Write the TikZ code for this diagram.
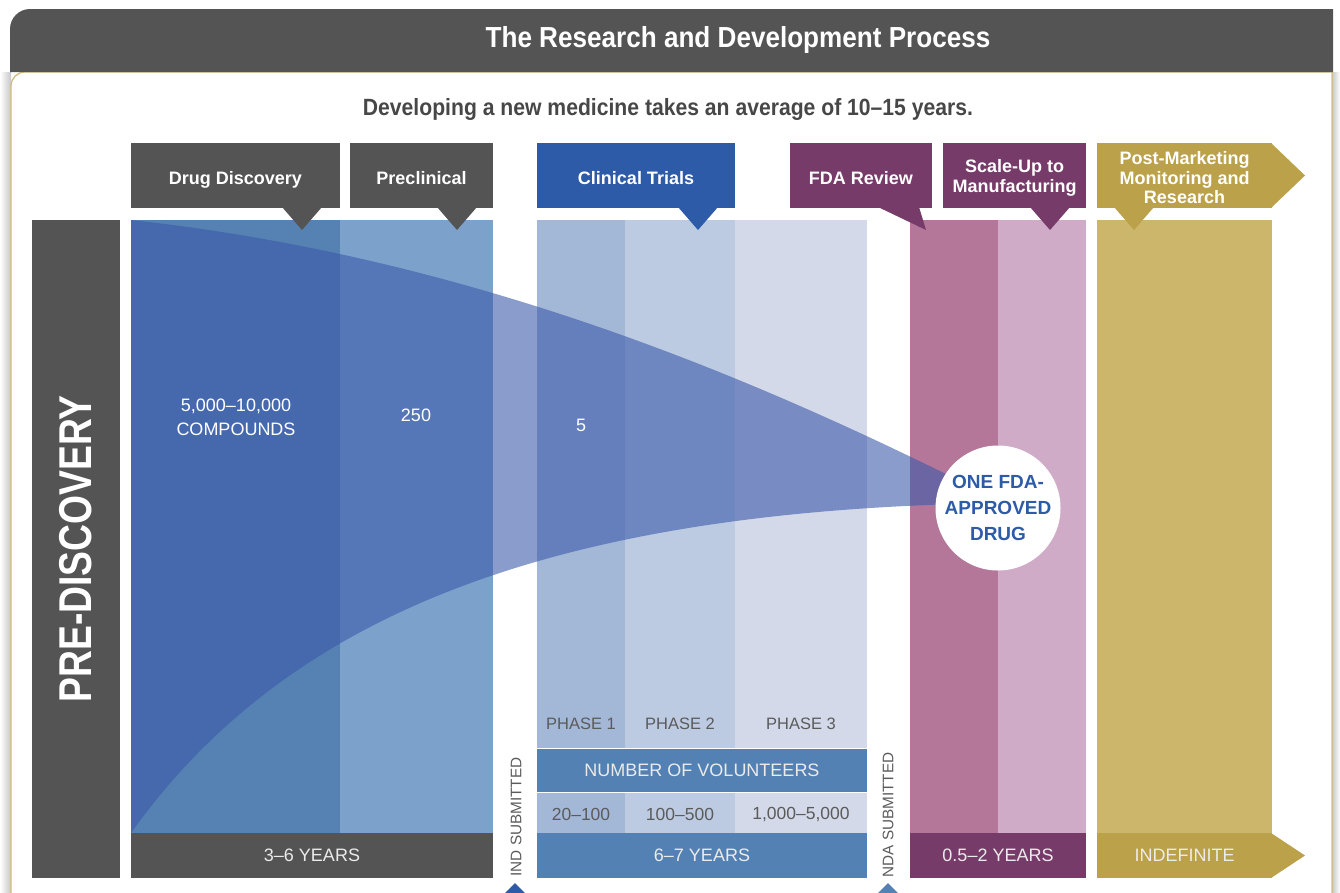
\documentclass[tikz,border=0pt]{standalone}
\usepackage{fontspec}
\setmainfont{Liberation Sans}
\newfontfamily\condfont[FakeStretch=0.9]{Liberation Sans}

\definecolor{bargray}{HTML}{545454}
\definecolor{ctblue}{HTML}{2D5BA8}
\definecolor{fdapurple}{HTML}{763B68}
\definecolor{pmgold}{HTML}{BBA14A}
\definecolor{volblue}{HTML}{5381B3}
\definecolor{ddcol}{HTML}{5681B3}
\definecolor{pccol}{HTML}{7CA2CC}
\definecolor{phaseA}{HTML}{A3B8D7}
\definecolor{phaseB}{HTML}{BCCBE2}
\definecolor{phaseC}{HTML}{D3D9E9}
\definecolor{fdacol}{HTML}{B47699}
\definecolor{scalecol}{HTML}{CFABC8}
\definecolor{pmcol}{HTML}{CCB66C}
\definecolor{funnel}{HTML}{3C5AAA}
\definecolor{panelgold}{HTML}{D2BE78}
\definecolor{labelgray}{HTML}{5B5B5B}

\begin{document}
\begin{tikzpicture}[x=1pt, y=-1pt,
  tabtext/.style={text=white, align=center, inner sep=0pt,
    font=\fontsize{18}{19.5}\selectfont\bfseries},
  yearband/.style={fill=#1, text=white!92!black, inner sep=0pt, minimum height=45pt,
    font=\fontsize{18}{20}\selectfont},
  counttext/.style={text=white, align=center, font=\fontsize{18}{24}\selectfont},
  phaselabel/.style={text=labelgray, font=\fontsize{16.5}{18}\selectfont},
  volcount/.style={text=labelgray, font=\fontsize{17.5}{18}\selectfont},
  subtext/.style={text=labelgray, rotate=90, font=\fontsize{15.3}{16}\selectfont}]

\useasboundingbox (0,0) rectangle (1340,892);

% Panel and title bar
\shade[left color=white, right color=black!22] (0,72) rectangle (11,892);
\shade[left color=black!22, right color=white] (1332,72) rectangle (1340,892);
\draw[panelgold, line width=1.3pt] (11,895) -- (11,86) arc[start angle=180, end angle=270, radius=14] -- (1332,72) -- (1332,895);
\fill[bargray] (10,72) -- (10,29) arc[start angle=180, end angle=270, radius=20] -- (1333,9) -- (1333,72) -- cycle;

\node[text=white, font=\condfont\fontsize{29}{30}\selectfont\bfseries] (title) at (738,40) {The Research and Development Process};
\node[text=black!72, font=\condfont\fontsize{23.5}{25}\selectfont\bfseries] (sub) at (668,109) {Developing a new medicine takes an average of 10–15 years.};

% Pre-discovery
\node[fill=bargray, rotate=90, minimum width=658pt, minimum height=88pt, inner sep=0pt, text=white,
  font=\fontsize{46}{46}\selectfont\bfseries] (pre) at (76,549) {\scalebox{0.81}[1]{PRE-DISCOVERY}};

% Columns
\fill[ddcol] (131,220) rectangle (340,833);
\fill[pccol] (340,220) rectangle (493,833);
\fill[phaseA] (537,220) rectangle (625,833);
\fill[phaseB] (625,220) rectangle (735,833);
\fill[phaseC] (735,220) rectangle (867,833);
\fill[fdacol] (910,220) rectangle (998,833);
\fill[scalecol] (998,220) rectangle (1086,833);
\fill[pmcol] (1097,220) rectangle (1272,833);

% Funnel
\fill[funnel, opacity=0.6] (131,220) .. controls (500,260) and (800,400) .. (998,500)
  -- (998,503) .. controls (560,510) and (290,610) .. (131,833) -- cycle;

% Clinical table
\node[yearband=volblue, minimum width=330pt, minimum height=44pt] (vol) at (702,770) {NUMBER OF VOLUNTEERS};
\draw[white, line width=0.8pt] (537,748) -- (867,748) (537,792) -- (867,792);

% Tabs
\fill[bargray] (131,143) rectangle (340,208);
\fill[bargray] (350,143) rectangle (493,208);
\fill[ctblue] (537,143) rectangle (735,208);
\fill[fdapurple] (790,143) rectangle (932,208);
\fill[fdapurple] (943,143) rectangle (1086,208);
\fill[pmgold] (1097,143) rectangle (1272,208);

\fill[bargray] (282,207) -- (322,207) -- (302,230) -- cycle;
\fill[bargray] (437,207) -- (477,207) -- (457,230) -- cycle;
\fill[ctblue] (678,207) -- (718,207) -- (698,230) -- cycle;
\fill[fdapurple] (878,207) -- (919,207) -- (926,230) -- cycle;
\fill[fdapurple] (1030,207) -- (1070,207) -- (1050,230) -- cycle;
\fill[pmgold] (1114,207) -- (1154,207) -- (1134,230) -- cycle;
\fill[pmgold] (1271,143) -- (1305,175.5) -- (1271,208) -- cycle;

\node[tabtext] (disc) at (235.5,179.5) {Drug Discovery};
\node[tabtext] (precl) at (421.5,178.5) {Preclinical};
\node[tabtext] (clin) at (636,178.5) {Clinical Trials};
\node[tabtext] (review) at (861,178) {FDA Review};
\node[tabtext] (scaleup) at (1014.5,178) {Scale-Up to\\Manufacturing};
\node[tabtext] (post) at (1184.5,178) {Post-Marketing\\Monitoring and\\Research};

% Year bands
\node[yearband=bargray, minimum width=362pt] (yrsA) at (312,855.5) {3–6 YEARS};
\node[yearband=volblue, minimum width=330pt] (yrsB) at (702,855.5) {6–7 YEARS};
\node[yearband=fdapurple, minimum width=176pt] (yrsC) at (998,855.5) {0.5–2 YEARS};
\node[yearband=pmgold, minimum width=175pt] (yrsD) at (1184.5,855.5) {INDEFINITE};
\fill[pmgold] (1271,833) -- (1305,855.5) -- (1271,878) -- cycle;

% Result
\node[circle, fill=white, minimum size=125pt, inner sep=0pt, align=center, text=ctblue,
  font=\fontsize{19}{26}\selectfont\bfseries] (drug) at (998,508) {ONE FDA-\\APPROVED\\DRUG};

% Labels
\node[counttext] (cmpd) at (236,417) {5,000–10,000\\COMPOUNDS};
\node[counttext] (cand) at (416,415) {250};
\node[counttext] (trial) at (581,425) {5};

\node[phaselabel] (ph1) at (581,724) {PHASE 1};
\node[phaselabel] (ph2) at (680,724) {PHASE 2};
\node[phaselabel] (ph3) at (801,724) {PHASE 3};
\node[volcount] (vol1) at (581,814) {20–100};
\node[volcount] (vol2) at (680,814) {100–500};
\node[volcount] (vol3) at (801,814) {1,000–5,000};

\node[subtext] (ind) at (516,817) {IND SUBMITTED};
\node[subtext] (nda) at (888,815) {NDA SUBMITTED};
\fill[ctblue] (500,898) -- (515,883) -- (530,898) -- cycle;
\fill[volblue] (873,898) -- (888,883) -- (903,898) -- cycle;

\end{tikzpicture}
\end{document}
